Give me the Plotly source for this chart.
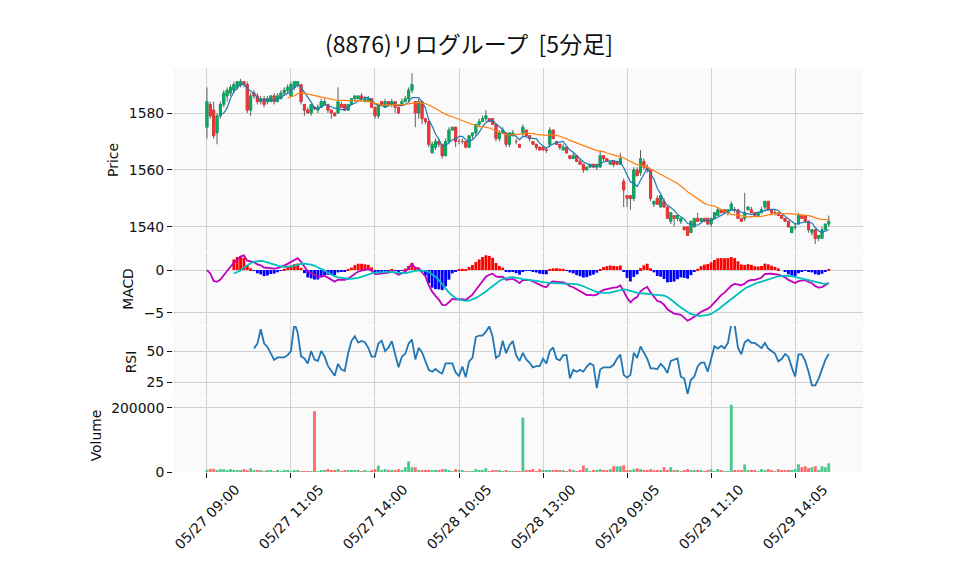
import pandas as pd
import plotly.graph_objects as go
from plotly.subplots import make_subplots

title_text = "(8876)リログループ  [5分足]"
tick_labels = ["05/27 09:00", "05/27 11:05", "05/27 14:00", "05/28 10:05",
               "05/28 13:00", "05/29 09:05", "05/29 11:10", "05/29 14:05"]
tick_step = 25

open_p = [1575,1583,1581,1573,1579,1583,1586,1587,1588,1589,
          1590,1591,1590,1581,1587,1586,1584,1585,1584,1584,
          1586,1584,1585,1587,1588,1586,1589,1590,1590,1583,
          1581,1580,1582,1581,1582,1583,1583,1581,1580,1580,
          1583,1583,1581,1583,1585,1585,1586,1584,1584,1585,
          1582,1579,1584,1582,1584,1583,1584,1582,1583,1584,
          1585,1588,
          1584,1580,1584,1578,1577,1566,1568,1570,1569,1565,
          1570,1574,1575,1570,1570,1570,1568,1572,1573,1576,
          1577,1578,1578,1578,1576,1571,1573,1573,1569,1572,
          1570,1569,1573,1574,1572,1570,1569,1568,1568,1567,
          1569,1574,1570,1569,1567,1568,1565,1564,1565,1563,
          1562,1560,1561,1562,1561,1561,1565,1564,1562,1563,
          1563,1562,
          1556,1551,1551,1550,1560,1559,1563,1561,1560,1548,
          1550,1547,1549,1547,1542,1544,1543,1542,1540,1540,
          1538,1540,1543,1542,1543,1543,1541,1543,1544,1546,
          1546,1545,1546,1546,1546,1543,1543,1546,1546,1545,
          1544,1545,1547,1549,1546,1545,1545,1544,1543,1542,
          1538,1540,1541,1544,1544,1542,1538,1539,1536,1536,
          1539,1541]

high_p = [1589,1584,1584,1580,1584,1588,1589,1590,1591,1591,
          1592,1591,1591,1587,1588,1587,1586,1586,1586,1586,
          1587,1587,1588,1589,1590,1591,1591,1591,1590,1583,
          1582,1583,1582,1583,1585,1585,1583,1581,1580,1589,
          1584,1583,1583,1585,1586,1586,1587,1586,1586,1585,
          1582,1583,1584,1585,1584,1585,1584,1582,1585,1586,
          1589,1594,
          1584,1585,1584,1578,1577,1570,1571,1571,1569,1571,
          1575,1575,1575,1571,1571,1570,1572,1573,1576,1578,
          1579,1581,1578,1578,1576,1574,1575,1573,1573,1574,
          1571,1569,1576,1574,1572,1570,1569,1568,1568,1568,
          1575,1574,1570,1569,1569,1568,1565,1566,1565,1564,
          1562,1561,1562,1562,1562,1567,1565,1564,1563,1563,
          1563,1566,
          1557,1551,1551,1561,1561,1567,1564,1562,1560,1549,
          1551,1551,1550,1547,1545,1544,1544,1543,1540,1540,
          1542,1543,1545,1543,1543,1543,1543,1545,1547,1546,
          1546,1546,1549,1547,1546,1543,1552,1547,1547,1545,
          1545,1547,1549,1549,1546,1546,1545,1544,1543,1542,
          1540,1541,1545,1544,1544,1542,1539,1539,1537,1540,
          1541,1544]

low_p = [1571,1578,1571,1569,1578,1582,1584,1586,1587,1588,
         1589,1589,1580,1579,1585,1583,1583,1582,1583,1584,
         1583,1584,1585,1586,1587,1586,1588,1589,1583,1579,
         1580,1579,1581,1580,1582,1583,1580,1578,1579,1580,
         1582,1581,1581,1583,1584,1585,1584,1584,1584,1582,
         1578,1578,1583,1582,1583,1582,1580,1580,1583,1584,
         1584,1587,
         1575,1578,1576,1576,1568,1566,1567,1568,1564,1565,
         1569,1574,1568,1569,1569,1568,1568,1571,1572,1575,
         1577,1577,1577,1576,1570,1570,1573,1568,1568,1572,
         1569,1568,1572,1572,1570,1569,1567,1567,1567,1566,
         1568,1571,1569,1567,1567,1566,1564,1564,1563,1562,
         1559,1560,1561,1561,1560,1561,1563,1563,1562,1561,
         1562,1562,
         1547,1547,1546,1549,1558,1558,1560,1559,1549,1547,
         1548,1547,1547,1543,1541,1540,1542,1541,1539,1537,
         1538,1540,1542,1542,1542,1541,1540,1543,1544,1545,
         1545,1544,1546,1545,1543,1542,1542,1546,1545,1544,
         1544,1545,1546,1546,1544,1544,1544,1543,1542,1540,
         1538,1539,1541,1543,1542,1538,1537,1534,1535,1536,
         1539,1540]

close_p = [1584,1579,1572,1579,1583,1587,1588,1589,1590,1591,
           1591,1590,1581,1586,1586,1584,1585,1583,1585,1586,
           1584,1586,1587,1588,1589,1590,1591,1591,1584,1581,
           1580,1583,1581.5,1582,1584,1584,1581,1580,1579,1584,
           1582,1581,1583,1585,1586,1586,1585,1585,1585,1582,
           1579,1583,1583,1584,1583,1584,1582,1580,1584,1585,
           1588,1590,
           1580,1584,1578,1577,1569,1569,1570,1569,1565,1570,
           1574,1575,1570,1570,1570,1568,1572,1573,1576,1577,
           1578,1579,1577,1576,1571,1573,1574,1569,1573,1573,
           1570,1568,1575,1572,1571,1569,1568,1567,1567,1567,
           1574,1571,1569,1568,1568,1566,1564,1565,1563,1562,
           1560,1561,1562,1561,1562,1565,1564,1563,1563,1562,
           1562,1564,
           1553,1550,1550,1560,1558,1564,1561,1560,1550,1549,
           1548,1551,1547,1543,1545,1543,1544,1543,1539,1537,
           1542,1543,1542,1543,1542,1541,1543,1545,1546,1545,
           1545,1546,1548,1546,1543,1542,1545,1547,1545,1544,
           1545,1546,1549,1546,1545,1545,1544,1543,1542,1540,
           1540,1540,1544,1543,1542,1539,1539,1536,1537,1539,
           1541,1542]

volume = [7000,10000,10000,6000,9000,9000,6000,9000,6000,6000,
          6000,9000,5000,12000,6000,6000,6000,3000,6000,6000,
          3000,6000,3000,6000,6000,3000,6000,6000,3000,3000,
          3000,1500,190000,3000,6000,6000,9000,6000,6000,9000,
          3000,6000,6000,6000,6000,6000,3000,6000,3000,6000,
          9000,20000,6000,9000,6000,6000,6000,9000,6000,15000,
          33000,15000,
          15000,5000,6000,6000,6000,6000,6000,6000,9000,9000,
          6000,3000,9000,6000,6000,3000,3000,2000,9000,6000,
          6000,12000,3000,6000,6000,6000,3000,6000,3000,3000,
          2000,2000,170000,6000,6000,9000,3000,9000,6000,6000,
          6000,6000,6000,6000,6000,3000,9000,6000,3000,6000,
          20000,12000,3000,6000,6000,9000,6000,6000,9000,18000,
          18000,18000,
          21000,6000,6000,9000,12000,9000,6000,6000,9000,6000,
          6000,6000,15000,6000,15000,6000,6000,3000,6000,9000,
          6000,6000,6000,6000,3000,6000,9000,3000,9000,6000,
          3000,2000,210000,6000,6000,6000,24000,6000,6000,6000,
          3000,9000,6000,9000,6000,3000,9000,6000,6000,6000,
          6000,9000,24000,15000,18000,12000,15000,18000,6000,18000,
          15000,27000]

# ---------- derived series ----------
df = pd.DataFrame({"open": open_p, "high": high_p, "low": low_p,
                   "close": close_p, "volume": volume})
x = list(range(len(df)))
df["ma5"] = df["close"].rolling(5).mean()
df["ma25"] = df["close"].rolling(25).mean()
ema12 = df["close"].ewm(span=12, adjust=False).mean()
ema26 = df["close"].ewm(span=26, adjust=False).mean()
df["macd"] = ema12 - ema26
df["signal"] = df["macd"].rolling(9).mean()
df["hist"] = df["macd"] - df["signal"]
delta = df["close"].diff()
up = delta.clip(lower=0).rolling(14).mean()
dn = (-delta.clip(upper=0)).rolling(14).mean()
df["rsi"] = 100 * up / (up + dn)

UP = "#00b060"
DOWN = "#fe3032"
WICK = "#606060"
VUP = "#4dc790"
VDOWN = "#fd6b6c"
FS = 13.9
TXT = "#101010"

body_hi = df[["open", "close"]].max(axis=1)
body_lo = df[["open", "close"]].min(axis=1)
prev_close = df["close"].shift(1).fillna(df["open"])
vol_colors = [VUP if c >= p else VDOWN for p, c in zip(prev_close, df["close"])]
hist_colors = ["#ff0000" if v >= 0 else "#0000ff" for v in df["hist"].fillna(0)]

fig = make_subplots(rows=4, cols=1, shared_xaxes=True,
                    row_heights=[0.5, 0.2, 0.2, 0.2], vertical_spacing=0.0025)

# wicks
fig.add_trace(go.Candlestick(x=x, open=df["open"], high=df["high"], low=df["low"], close=df["close"],
                             increasing=dict(line=dict(color=WICK, width=1), fillcolor=WICK),
                             decreasing=dict(line=dict(color=WICK, width=1), fillcolor=WICK),
                             whiskerwidth=0, hoverinfo="skip"), row=1, col=1)
# bodies
fig.add_trace(go.Candlestick(x=x, open=df["open"], high=body_hi, low=body_lo, close=df["close"],
                             increasing=dict(line=dict(color=UP, width=1), fillcolor=UP),
                             decreasing=dict(line=dict(color=DOWN, width=1), fillcolor=DOWN),
                             whiskerwidth=0, opacity=0.9), row=1, col=1)
fig.add_trace(go.Scatter(x=x, y=df["ma5"], mode="lines", line=dict(color="#1f77b4", width=1.2)), row=1, col=1)
fig.add_trace(go.Scatter(x=x, y=df["ma25"], mode="lines", line=dict(color="#ff7f0e", width=1.2)), row=1, col=1)

fig.add_trace(go.Bar(x=x, y=df["hist"], marker=dict(color=hist_colors, line=dict(width=0))), row=2, col=1)
fig.add_trace(go.Scatter(x=x, y=df["macd"], mode="lines", line=dict(color="#bf00bf", width=1.8)), row=2, col=1)
fig.add_trace(go.Scatter(x=x, y=df["signal"], mode="lines", line=dict(color="#00bfbf", width=1.8)), row=2, col=1)

fig.add_trace(go.Scatter(x=x, y=df["rsi"], mode="lines", line=dict(color="#1f77b4", width=1.8)), row=3, col=1)

fig.add_trace(go.Bar(x=x, y=df["volume"], marker=dict(color=vol_colors, line=dict(width=0))), row=4, col=1)

tickvals = [i * tick_step for i in range(len(tick_labels))]

# rotated x tick labels centred on their ticks
annotations = [dict(x=tv, y=0, xref="x4", yref="y4 domain", text=lab, showarrow=False,
                    textangle=-45, xanchor="center", yanchor="top", yshift=-7,
                    font=dict(family="DejaVu Sans", size=FS, color=TXT))
               for tv, lab in zip(tickvals, tick_labels)]

fig.update_layout(
    width=958, height=575, template="plotly_white",
    margin=dict(l=165, r=103, t=60, b=111),
    plot_bgcolor="#fafafa", paper_bgcolor="white",
    showlegend=False, bargap=0.15, boxgap=0.15,
    font=dict(family="DejaVu Sans", size=FS, color=TXT),
    title=dict(text=title_text, x=461 / 958, xanchor="center", y=1 - 37 / 575, yanchor="middle",
               font=dict(family="Noto Sans CJK JP", size=23, color="#101010")),
    annotations=annotations,
    yaxis=dict(domain=[220 / 404, 1.0]),
    yaxis2=dict(domain=[147 / 404, 219 / 404]),
    yaxis3=dict(domain=[74 / 404, 146 / 404]),
    yaxis4=dict(domain=[0.0, 73 / 404]),
)
fig.update_xaxes(tickvals=tickvals, ticktext=tick_labels, range=[-10.1, 195.2],
                 showgrid=True, gridcolor="#d0d0d0", gridwidth=1, zeroline=False,
                 rangeslider=dict(visible=False), showline=False, showticklabels=False)
fig.update_xaxes(ticks="outside", ticklen=5, tickcolor=TXT, row=4, col=1)

yax = dict(showgrid=True, gridcolor="#d0d0d0", zeroline=False, ticks="outside",
           ticklen=5, tickcolor=TXT, showline=False,
           title_font=dict(size=FS, color=TXT), title_standoff=6)
fig.update_yaxes(**yax)
fig.update_yaxes(title_text="Price", range=[1531.2, 1595.8], dtick=20, row=1, col=1)
fig.update_yaxes(title_text="MACD", range=[-6.4, 1.98], dtick=5, row=2, col=1)
fig.update_yaxes(title_text="RSI", range=[12.1, 70.2], dtick=25, row=3, col=1)
fig.update_yaxes(title_text="Volume", range=[0, 228000], dtick=200000, tickformat="d", row=4, col=1)

fig.write_html("out.html")
